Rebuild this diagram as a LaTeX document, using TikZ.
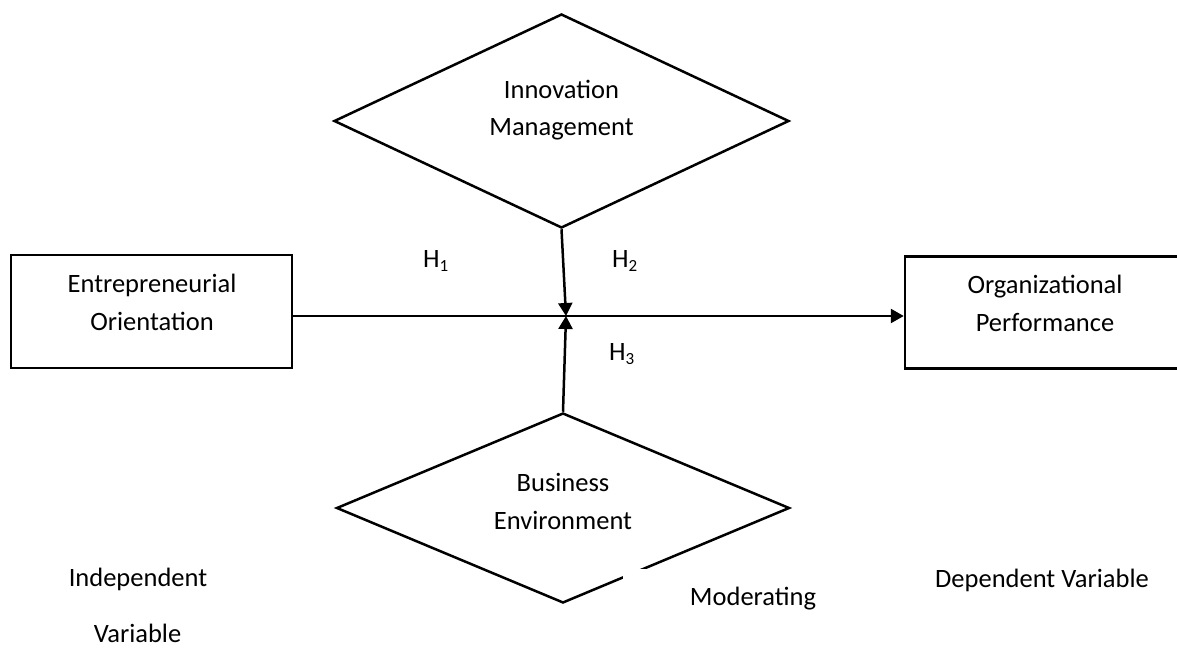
\documentclass[tikz,border=0pt]{standalone}
\usepackage{fontspec}
\setmainfont{Carlito}
\usetikzlibrary{shapes.geometric,arrows.meta}
\newcommand\hsub[1]{\raisebox{-4.5bp}{\fontsize{17bp}{17bp}\selectfont #1}}
\tikzset{
  lbl/.style={font=\fontsize{26.5bp}{37.5bp}\selectfont, inner sep=0pt, align=center, anchor=base},
  hlbl/.style={font=\fontsize{26.5bp}{30bp}\selectfont, inner sep=0pt, anchor=base west},
  varbox/.style={draw, line width=2.5bp, rectangle, inner sep=0pt},
  moddiam/.style={draw, line width=2.5bp, diamond, shape aspect=2.1, inner sep=0pt},
  conn/.style={line width=2.5bp, -{Triangle[length=13bp,width=14bp]}}
}
\begin{document}
\begin{tikzpicture}[x=1bp,y=-1bp]
\useasboundingbox (0,0) rectangle (1177,649);
% shapes
\node[moddiam, minimum width=455bp, minimum height=214bp] (im) at (561.5,121) {};
\node[moddiam, minimum width=453bp, minimum height=190bp] (bm) at (563,508) {};
\node[varbox, minimum width=281bp, minimum height=113bp] (lb) at (151.5,311.5) {};
\node[varbox, minimum width=280bp, minimum height=112bp] (rb) at (1045,312.5) {};
\coordinate (J) at (566,316);
% gap in the lower diamond
\fill[white] (623,569) rectangle (850,625);
% connectors
\draw[conn] (lb.east |- J) -- (rb.west |- J);
\draw[conn] (im.south) -- (J);
\draw[conn] (bm.north) -- (J);
% texts (base anchor = baseline of last line)
\node[lbl] (imt) at (561.5,136) {Innovation\\Management};
\node[lbl] (bmt) at (563,529) {Business\\Environment};
\node[lbl] (lbt) at (152,330) {Entrepreneurial\\Orientation};
\node[lbl] (rbt) at (1045,331) {Organizational\\Performance};
\node[hlbl] (h1) at (423,267) {H\hsub{1}};
\node[hlbl] (h2) at (612,267) {H\hsub{2}};
\node[hlbl] (h3) at (609,360) {H\hsub{3}};
\node[lbl] (ind) at (138,586) {Independent};
\node[lbl] (var) at (137.5,642) {Variable};
\node[lbl] (mod) at (753,605) {Moderating};
\node[lbl] (dep) at (1042,587) {Dependent Variable};
\end{tikzpicture}
\end{document}
